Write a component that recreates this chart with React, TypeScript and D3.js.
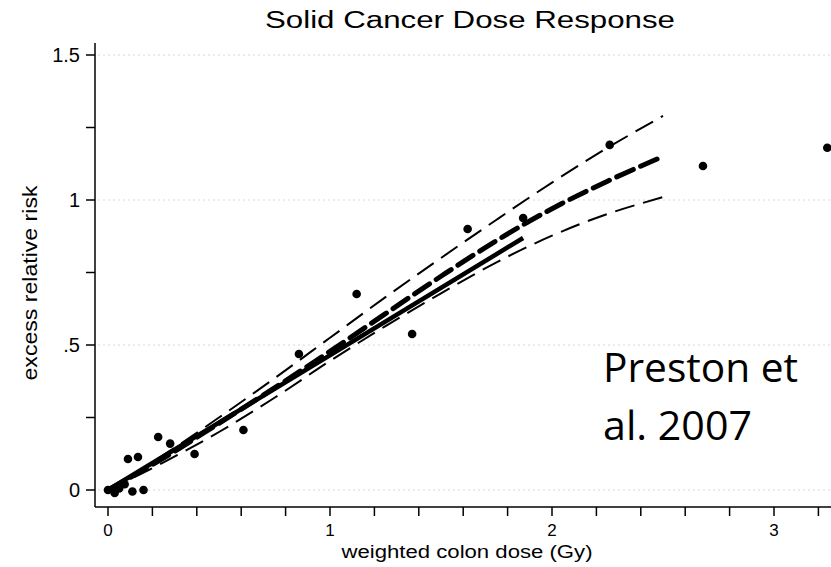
import React from 'react';
import * as d3 from 'd3';

// scatter points: weighted colon dose (Gy) vs excess relative risk
const pointDose = [0, 0.03, 0.05, 0.075, 0.11, 0.16, 0.09, 0.135, 0.226, 0.28, 0.39, 0.61, 0.86, 1.12, 1.37, 1.62, 1.87, 2.26, 2.68, 3.24];
const pointErr = [0, -0.01, 0.005, 0.02, -0.005, 0, 0.107, 0.114, 0.183, 0.16, 0.124, 0.207, 0.469, 0.676, 0.538, 0.9, 0.938, 1.19, 1.117, 1.18];

// smoothed fit with +/- 1 se band
const fitDose = [0, 0.25, 0.5, 0.75, 1.0, 1.25, 1.5, 1.75, 2.0, 2.25, 2.5];
const fitErr = [0, 0.11, 0.23, 0.352, 0.478, 0.608, 0.737, 0.86, 0.97, 1.065, 1.15];
const fitUpper = [0, 0.12, 0.25, 0.385, 0.525, 0.665, 0.8, 0.932, 1.06, 1.18, 1.29];
const fitLower = [0, 0.095, 0.2, 0.318, 0.445, 0.565, 0.678, 0.785, 0.877, 0.952, 1.01];

// linear fit 0 - 2 Gy
const linDose = [0, 1.87];
const linErr = [0, 0.869];

const xTicks = d3.range(0, 3.21, 0.2);
const xTickLabels = ['0', '1', '2', '3'];
const yTicks = [0, 0.25, 0.5, 0.75, 1, 1.25, 1.5];
const yTickLabels = ['0', '.5', '1', '1.5'];

const width = 831;
const height = 567;

export default function App() {
  const x = d3.scaleLinear().domain([0, 1]).range([108, 330]);
  const y = d3.scaleLinear().domain([0, 1.5]).range([490, 55]);
  const axisX = 95;
  const axisY = 507;

  const line = d3.line<[number, number]>()
    .x(d => x(d[0]))
    .y(d => y(d[1]))
    .curve(d3.curveCatmullRom);

  const pairs = (xs: number[], ys: number[]) => xs.map((v, i) => [v, ys[i]] as [number, number]);
  const font = 'Arial, "Liberation Sans", sans-serif';

  return (
    <svg width={width} height={height} style={{ position: 'absolute', left: 0, top: 0, background: '#fff' }}>
      {/* faint grid */}
      {[0, 0.5, 1, 1.5].map(v => (
        <line key={'g' + v} x1={axisX + 3} x2={width} y1={y(v)} y2={y(v)} stroke="#d8d8d8" strokeWidth={1} strokeDasharray="2 3" />
      ))}

      {/* axes */}
      <line x1={axisX} x2={axisX} y1={43} y2={axisY} stroke="#000" strokeWidth={1.5} />
      <line x1={axisX} x2={width} y1={axisY} y2={axisY} stroke="#000" strokeWidth={1.5} />
      {yTicks.map(v => (
        <line key={'yt' + v} x1={axisX - 9} x2={axisX} y1={y(v)} y2={y(v)} stroke="#000" strokeWidth={1.5} />
      ))}
      {xTicks.map(v => (
        <line key={'xt' + v} x1={x(v)} x2={x(v)} y1={axisY} y2={axisY + 9} stroke="#000" strokeWidth={1.5} />
      ))}
      {yTickLabels.map((t, i) => (
        <text key={'yl' + t} x={80} y={y(i * 0.5) + 7} textAnchor="end" fontFamily={font} fontSize={20}>{t}</text>
      ))}
      {xTickLabels.map((t, i) => (
        <text key={'xl' + t} x={x(i)} y={536} textAnchor="middle" fontFamily={font} fontSize={17}>{t}</text>
      ))}

      {/* titles */}
      <text x={470} y={28} textAnchor="middle" fontFamily={font} fontSize={23} textLength={410} lengthAdjust="spacingAndGlyphs">Solid Cancer Dose Response</text>
      <text x={467} y={558} textAnchor="middle" fontFamily={font} fontSize={18} textLength={251} lengthAdjust="spacingAndGlyphs">weighted colon dose (Gy)</text>
      <text transform="translate(37,283) rotate(-90)" textAnchor="middle" fontFamily={font} fontSize={21} textLength={195} lengthAdjust="spacingAndGlyphs">excess relative risk</text>

      {/* curves */}
      <path d={line(pairs(fitDose, fitUpper)) || ''} fill="none" stroke="#000" strokeWidth={2} strokeDasharray="20 9" />
      <path d={line(pairs(fitDose, fitLower)) || ''} fill="none" stroke="#000" strokeWidth={2} strokeDasharray="20 9" />
      <path d={line(pairs(linDose, linErr)) || ''} fill="none" stroke="#000" strokeWidth={4.5} />
      <path d={line(pairs(fitDose, fitErr)) || ''} fill="none" stroke="#000" strokeWidth={5} strokeLinecap="round" strokeDasharray="18 8" />

      {/* points */}
      {pointDose.map((d, i) => (
        <circle key={'p' + i} cx={x(d)} cy={y(pointErr[i])} r={4.3} fill="#000" />
      ))}

      {/* citation */}
      <text x={603} y={382} fontFamily='"Open Sans", "Noto Sans", sans-serif' fontSize={40} textLength={195} lengthAdjust="spacingAndGlyphs">Preston et</text>
      <text x={603} y={440} fontFamily='"Open Sans", "Noto Sans", sans-serif' fontSize={40} textLength={149} lengthAdjust="spacingAndGlyphs">al. 2007</text>
    </svg>
  );
}
